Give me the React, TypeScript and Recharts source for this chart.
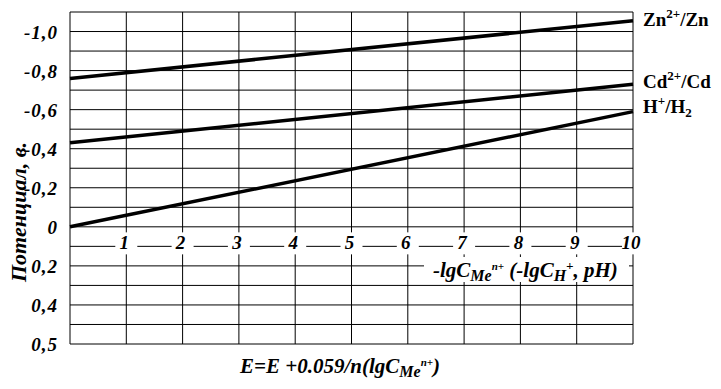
import { LineChart, Line, XAxis, YAxis, CartesianGrid, ReferenceDot, LabelList } from 'recharts';

const X_VALUES = [0, 10];
const ZN_VALUES = [-0.76, -1.055];
const CD_VALUES = [-0.43, -0.73];
const H_VALUES = [0, -0.59];

const X_TICKS = [0, 1, 2, 3, 4, 5, 6, 7, 8, 9, 10];
const X_TICK_LABELS = ['1', '2', '3', '4', '5', '6', '7', '8', '9', '10'];
const Y_TICKS = [-1.1, -1.0, -0.9, -0.8, -0.7, -0.6, -0.5, -0.4, -0.3, -0.2, -0.1, 0, 0.1, 0.2, 0.3, 0.4, 0.5, 0.6];
// the bottom line is printed as "0,5" in the original
const Y_TICK_LABELS: Record<string, string> = {
  '-1': '-1,0',
  '-0.8': '-0,8',
  '-0.6': '-0,6',
  '-0.4': '-0,4',
  '-0.2': '-0,2',
  '0': '0',
  '0.2': '0,2',
  '0.4': '0,4',
  '0.6': '0,5',
};

const data = X_VALUES.map((x, i) => ({ x, zn: ZN_VALUES[i], cd: CD_VALUES[i], h: H_VALUES[i] }));

const FONT = '"Liberation Serif", "Times New Roman", serif';

const YTick = ({ x, y, payload }: any) => {
  const label = Y_TICK_LABELS[String(Math.round(payload.value * 10) / 10)];
  if (!label) return null;
  return (
    <text x={x - 4} y={y} dy="0.38em" textAnchor="end" fontFamily={FONT} fontSize={19}
      fontWeight="bold" fontStyle="italic" letterSpacing={1} fill="#000">
      {label}
    </text>
  );
};

const XTickShape = (label: string) => ({ cx, cy }: any) => (
  <g>
    <rect x={cx - 11} y={cy - 14} width={22} height={22} fill="#fff" />
    <text x={cx - 2} y={cy + 3} textAnchor="middle" fontFamily={FONT} fontSize={19}
      fontWeight="bold" fontStyle="italic" fill="#000">
      {label}
    </text>
  </g>
);

const endLabel = (kind: string) => (props: any) => {
  const { x, y, index } = props;
  if (index !== data.length - 1) return null;
  const common = { fontFamily: FONT, fontSize: 19, fontWeight: 'bold', fill: '#000' } as const;
  if (kind === 'zn') {
    return (
      <text x={x + 10} y={y + 5} {...common}>
        Zn<tspan fontSize={13} dy={-8}>2+</tspan><tspan dy={8}>/Zn</tspan>
      </text>
    );
  }
  if (kind === 'cd') {
    return (
      <text x={x + 10} y={y + 4} {...common}>
        Cd<tspan fontSize={13} dy={-8}>2+</tspan><tspan dy={8}>/Cd</tspan>
      </text>
    );
  }
  return (
    <text x={x + 10} y={y + 1} {...common}>
      H<tspan fontSize={13} dy={-8}>+</tspan><tspan dy={8}>/H</tspan>
      <tspan fontSize={13} dy={4}>2</tspan>
    </text>
  );
};

export default function App() {
  return (
    <div style={{ position: 'relative', width: 721, height: 389, background: '#fff' }}>
      <style>{'body{margin:0}'}</style>
      <LineChart width={721} height={389} data={data} margin={{ top: 12, right: 88, left: 0, bottom: 45 }}>
        <CartesianGrid stroke="#000" strokeWidth={1} strokeOpacity={1} />
        <XAxis dataKey="x" type="number" domain={[0, 10]} ticks={X_TICKS} hide />
        <YAxis
          type="number"
          domain={[-1.1, 0.6]}
          ticks={Y_TICKS}
          reversed
          allowDataOverflow
          width={70}
          axisLine={false}
          tickLine={false}
          interval={0}
          tick={<YTick />}
        />
        {X_TICK_LABELS.map((label, i) => (
          <ReferenceDot key={label} x={i + 1} y={0.1} r={0} shape={XTickShape(label)} />
        ))}
        <Line dataKey="zn" stroke="#000" strokeWidth={3.5} dot={false} isAnimationActive={false}>
          <LabelList dataKey="zn" content={endLabel('zn')} />
        </Line>
        <Line dataKey="cd" stroke="#000" strokeWidth={3.5} dot={false} isAnimationActive={false}>
          <LabelList dataKey="cd" content={endLabel('cd')} />
        </Line>
        <Line dataKey="h" stroke="#000" strokeWidth={3.5} dot={false} isAnimationActive={false}>
          <LabelList dataKey="h" content={endLabel('h')} />
        </Line>
      </LineChart>
      <svg width={721} height={389} style={{ position: 'absolute', left: 0, top: 0, pointerEvents: 'none' }}>
        <rect x={424} y={257} width={205} height={25} fill="#fff" />
        <text x={433} y={277} fontFamily={FONT} fontSize={21} fontWeight="bold" fontStyle="italic" fill="#000">
          -lgC<tspan fontSize={16} dy={4}>Me</tspan>
          <tspan fontSize={11} dy={-11}>n+</tspan>
          <tspan dy={7}> (-lgC</tspan>
          <tspan fontSize={16} dy={4}>H</tspan>
          <tspan fontSize={13} dy={-11}>+</tspan>
          <tspan dy={7}>, pH)</tspan>
        </text>
        <text x={18} y={212} transform="rotate(-90 18 212)" textAnchor="middle" dy="0.35em" fontFamily={FONT}
          fontSize={22} fontWeight="bold" fontStyle="italic" fill="#000">
          Потенциал, в.
        </text>
        <text x={240} y={373} fontFamily={FONT} fontSize={21} fontWeight="bold" fontStyle="italic" fill="#000">
          E=E +0.059/n(lgC<tspan fontSize={16} dy={4}>Me</tspan>
          <tspan fontSize={11} dy={-11}>n+</tspan>
          <tspan dy={7}>)</tspan>
        </text>
      </svg>
    </div>
  );
}
